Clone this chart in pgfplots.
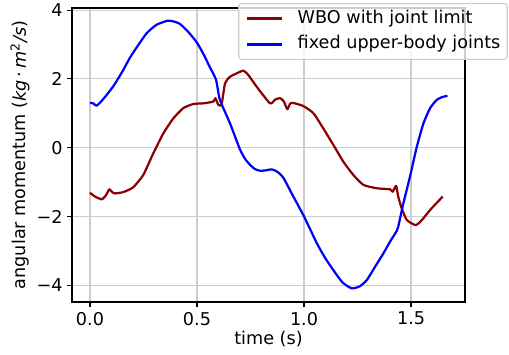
\documentclass[border=0pt]{standalone}
\usepackage{fontspec}
\setmainfont{DejaVu Sans}
\usepackage{pgfplots}
\pgfplotsset{compat=1.18}
\definecolor{mred}{RGB}{139,0,0}
\definecolor{mblue}{RGB}{0,0,255}
\definecolor{gridc}{RGB}{205,205,205}
\definecolor{legc}{RGB}{204,204,204}
\newcommand{\ff}{\fontsize{12.7}{15}\selectfont}
\begin{document}
\ff
\begin{tikzpicture}
\path[use as bounding box] (-51.84pt,-37.44pt) rectangle (314.64pt,217.44pt);
\begin{axis}[
  at={(0,0)}, anchor=south west,
  scale only axis, width=282.96pt, height=211.68pt,
  xmin=-0.0841, xmax=1.752, ymin=-4.486, ymax=4.061,
  axis line style={black, line width=0.85pt},
  xtick={0,0.5,1,1.5}, xticklabels={0.0,0.5,1.0,1.5},
  ytick={-4,-2,0,2,4}, yticklabels={−4,−2,0,2,4},
  xtick pos=bottom, ytick pos=left,
  tick align=outside, major tick length=3.7pt,
  tick style={black, line width=0.85pt},
  grid=major, major grid style={gridc, line width=0.85pt},
  xticklabel style={font=\ff, anchor=north, inner sep=0pt, yshift=-3.3pt},
  yticklabel style={font=\ff, anchor=east, inner sep=0pt, xshift=-2.9pt},
  xlabel={time (s)},
  ylabel={angular momentum (\textit{kg}\,·\,\textit{m}\textsuperscript{2}\textit{/s})},
  xlabel style={at={(axis description cs:0.5,-0.1265)}, anchor=center, font=\ff, inner sep=0pt},
  ylabel style={at={(axis description cs:-0.1323,0.5)}, anchor=center, font=\ff, inner sep=0pt},
  legend style={at={(1.109,1.017)}, anchor=north east, draw=legc, fill=white,
    fill opacity=0.8, text opacity=1, rounded corners=2pt, line width=0.8pt,
    inner xsep=5pt, inner ysep=4.5pt, row sep=6.2pt,
    font=\ff, cells={anchor=west},
    nodes={inner xsep=0pt, inner ysep=0pt, text height=9.5pt, text depth=3pt},
    /tikz/every odd column/.append style={column sep=10.2pt}},
  legend image code/.code={\draw[#1] (0pt,0pt) -- (25.6pt,0pt);},
]
\addplot[mred, line width=1.6pt, line join=round, smooth, tension=0.35] coordinates {
(0,-1.31) (0.023,-1.42) (0.055,-1.50) (0.075,-1.38) (0.09,-1.21) (0.105,-1.30) (0.117,-1.33) (0.156,-1.29) (0.202,-1.15) (0.249,-0.79) (0.296,-0.16) (0.343,0.42) (0.389,0.85) (0.436,1.15) (0.483,1.27) (0.53,1.29) (0.576,1.34) (0.586,1.44) (0.60,1.24) (0.615,1.27) (0.631,1.87) (0.654,2.06) (0.685,2.16) (0.717,2.24) (0.74,2.11) (0.779,1.77) (0.841,1.29) (0.865,1.40) (0.888,1.44) (0.905,1.35) (0.922,1.12) (0.935,1.28) (0.95,1.30) (0.997,1.21) (1.044,1.0) (1.09,0.56) (1.137,0.08) (1.184,-0.41) (1.23,-0.79) (1.277,-1.08) (1.34,-1.18) (1.402,-1.21) (1.414,-1.28) (1.43,-1.11) (1.44,-1.42) (1.456,-1.76) (1.48,-2.10) (1.519,-2.25) (1.535,-2.20) (1.558,-2.05) (1.589,-1.81) (1.648,-1.42)
};
\addlegendentry{WBO with joint limit}
\addplot[mblue, line width=1.6pt, line join=round, smooth, tension=0.35] coordinates {
(0,1.30) (0.015,1.29) (0.031,1.22) (0.06,1.40) (0.107,1.77) (0.15,2.20) (0.187,2.62) (0.225,2.98) (0.265,3.33) (0.31,3.57) (0.361,3.69) (0.39,3.67) (0.42,3.60) (0.46,3.36) (0.5,3.05) (0.53,2.72) (0.561,2.33) (0.589,1.97) (0.607,1.39) (0.654,0.71) (0.70,-0.04) (0.725,-0.33) (0.748,-0.50) (0.77,-0.62) (0.794,-0.67) (0.82,-0.66) (0.849,-0.63) (0.875,-0.70) (0.903,-0.87) (0.95,-1.42) (1.0,-2.0) (1.06,-2.78) (1.10,-3.22) (1.137,-3.56) (1.18,-3.92) (1.223,-4.09) (1.26,-4.03) (1.293,-3.85) (1.33,-3.48) (1.371,-3.07) (1.40,-2.75) (1.433,-2.42) (1.44,-2.30) (1.464,-1.62) (1.495,-0.84) (1.527,0.03) (1.558,0.71) (1.589,1.15) (1.62,1.39) (1.645,1.47) (1.67,1.51)
};
\addlegendentry{fixed upper-body joints}
\end{axis}
\end{tikzpicture}
\end{document}
